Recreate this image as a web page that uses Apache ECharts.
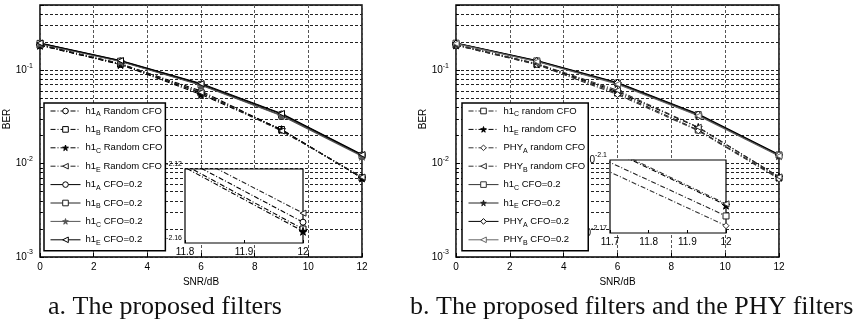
<!DOCTYPE html>
<html lang="en">
<head>
  <meta charset="utf-8">
</head>
<body style="margin: 0; background: #fff">
  <div id="container" style="width: 866px; height: 326px"></div>

  <script type="text/javascript" src="https://fastly.jsdelivr.net/npm/echarts@6/dist/echarts.min.js"></script>
  <script type="text/javascript">
// SNR points (dB)
var snr = [0, 3, 6, 9, 12];

// a. The proposed filters
var aH1ARand = [0.187, 0.117, 0.060, 0.0228, 0.00710];
var aH1BRand = [0.186, 0.116, 0.057, 0.0232, 0.00704];
var aH1CRand = [0.185, 0.115, 0.055, 0.0231, 0.00702];
var aH1ERand = [0.188, 0.118, 0.058, 0.0224, 0.00718];
var aH1A02 = [0.195, 0.126, 0.071, 0.0340, 0.0124];
var aH1B02 = [0.194, 0.125, 0.070, 0.0330, 0.0122];
var aH1C02 = [0.193, 0.124, 0.069, 0.0325, 0.0120];
var aH1E02 = [0.196, 0.127, 0.072, 0.0345, 0.0125];

// b. The proposed filters and the PHY filters
var bH1CRand = [0.186, 0.116, 0.057, 0.0229, 0.00702];
var bH1ERand = [0.187, 0.117, 0.059, 0.0244, 0.00719];
var bPhyARand = [0.185, 0.115, 0.055, 0.0225, 0.00687];
var bPhyBRand = [0.188, 0.118, 0.061, 0.0245, 0.00721];
var bH1C02 = [0.195, 0.126, 0.073, 0.0335, 0.0124];
var bH1E02 = [0.194, 0.125, 0.072, 0.0330, 0.0122];
var bPhyA02 = [0.196, 0.127, 0.074, 0.0340, 0.0125];
var bPhyB02 = [0.193, 0.124, 0.071, 0.0325, 0.0121];

// zoomed insets: x range and log10 y range
var insetA = { x: [11.8, 12], e: [-2.16, -2.12] };
var insetB = { x: [11.7, 12], e: [-2.17, -2.1] };

var FONT = 'Liberation Sans';
var STAR = 'path://M50,0L61,35L98,35L68,57L79,91L50,70L21,91L32,57L2,35L39,35Z';
var TRI_L = 'path://M0,50L100,0L100,100Z';
var DASHDOT = [5, 2, 1, 2];

function line(name, data, symbol, dashed, color, idx) {
  var filled = symbol === STAR;
  var inset = idx % 2 === 1;
  return {
    name: name,
    type: 'line',
    xAxisIndex: idx,
    yAxisIndex: idx,
    data: snr.map(function (x, i) { return [x, data[i]]; }),
    symbol: symbol,
    symbolSize: filled ? 8 : 6,
    lineStyle: { color: color, width: 1.1, type: dashed ? DASHDOT : 'solid' },
    itemStyle: { color: filled ? color : '#fff', borderColor: color, borderWidth: 1 },
    clip: true,
    z: inset ? 4 : 2
  };
}

function powLabel(digits, ends) {
  return function (v) {
    var e = Math.log(v) / Math.LN10;
    var r = +e.toFixed(digits);
    if (Math.abs(e - r) > 1e-6) return '';
    if (ends && Math.abs(r - ends[0]) > 1e-6 && Math.abs(r - ends[1]) > 1e-6) return '';
    return '{b|10}{s|' + r + '}';
  };
}

var powRich = {
  b: { fontSize: 10, lineHeight: 16, fontFamily: FONT, color: '#000' },
  s: { fontSize: 7, lineHeight: 7, verticalAlign: 'top', fontFamily: FONT, color: '#000' }
};
var subRich = {
  n: { fontSize: 9.5, lineHeight: 14, fontFamily: FONT, color: '#000' },
  sub: { fontSize: 7, lineHeight: 7, verticalAlign: 'bottom', fontFamily: FONT, color: '#000' }
};

function legendText(name) {
  var m = name.slice(2).match(/^(\w+?)_(\w)(.*)$/);
  return '{n|' + m[1] + '}{sub|' + m[2] + '}{n|' + m[3] + '}';
}

var gridLine = { type: [3, 2], color: '#222', width: 1 };
var label = { fontSize: 10, color: '#000', fontFamily: FONT };

function mainX(gi) {
  return {
    gridIndex: gi, type: 'value', min: 0, max: 12, interval: 2,
    name: 'SNR/dB', nameLocation: 'middle', nameGap: 12, nameTextStyle: label,
    axisLine: { show: false },
    axisTick: { inside: true, length: 4, lineStyle: { color: '#000' } },
    axisLabel: Object.assign({ margin: 5 }, label),
    splitLine: { lineStyle: { type: [3, 2], color: '#555', width: 1 } }
  };
}
function mainY(gi) {
  return {
    gridIndex: gi, type: 'log', logBase: 10, min: 0.001, max: 0.5,
    name: 'BER', nameLocation: 'middle', nameGap: 26,
    nameTextStyle: Object.assign({ padding: [0, 0, 0, 24] }, label),
    axisLine: { show: false },
    axisTick: { inside: true, length: 4, lineStyle: { color: '#000' } },
    minorTick: { show: true, splitNumber: 9, length: 2, lineStyle: { color: '#000' } },
    axisLabel: { margin: 7, formatter: powLabel(0), rich: powRich },
    splitLine: { lineStyle: gridLine },
    minorSplitLine: { show: true, lineStyle: gridLine }
  };
}
function insetX(gi, r) {
  return {
    gridIndex: gi, type: 'value', min: r.x[0], max: r.x[1], interval: 0.1, z: 3,
    axisLine: { show: false },
    axisTick: { inside: true, length: 3, lineStyle: { color: '#000' } },
    axisLabel: Object.assign({ margin: 4 }, label),
    splitLine: { show: false }
  };
}
function insetY(gi, r) {
  return {
    gridIndex: gi, type: 'log', logBase: 10, z: 3,
    min: Math.pow(10, r.e[0]), max: Math.pow(10, r.e[1]),
    axisLine: { show: false },
    axisTick: { show: false },
    axisLabel: { margin: 3, formatter: powLabel(2, r.e), rich: powRich },
    splitLine: { show: false }
  };
}

var mainGrid = { show: true, borderColor: '#000', borderWidth: 1.5, backgroundColor: 'transparent', outerBoundsMode: 'none', containLabel: false };
var insetGrid = { show: true, borderColor: '#000', borderWidth: 1.2, backgroundColor: '#fff', z: 3, outerBoundsMode: 'none', containLabel: false };

var seriesA = [
  ['a.h1_A Random CFO', aH1ARand, 'circle', true, '#000'],
  ['a.h1_B Random CFO', aH1BRand, 'rect', true, '#000'],
  ['a.h1_C Random CFO', aH1CRand, STAR, true, '#000'],
  ['a.h1_E Random CFO', aH1ERand, TRI_L, true, '#222'],
  ['a.h1_A CFO=0.2', aH1A02, 'circle', false, '#000'],
  ['a.h1_B CFO=0.2', aH1B02, 'rect', false, '#222'],
  ['a.h1_C CFO=0.2', aH1C02, STAR, false, '#555'],
  ['a.h1_E CFO=0.2', aH1E02, TRI_L, false, '#000']
];
var seriesB = [
  ['b.h1_C random CFO', bH1CRand, 'rect', true, '#222'],
  ['b.h1_E random CFO', bH1ERand, STAR, true, '#000'],
  ['b.PHY_A random CFO', bPhyARand, 'diamond', true, '#333'],
  ['b.PHY_B random CFO', bPhyBRand, TRI_L, true, '#333'],
  ['b.h1_C CFO=0.2', bH1C02, 'rect', false, '#333'],
  ['b.h1_E CFO=0.2', bH1E02, STAR, false, '#222'],
  ['b.PHY_A CFO=0.2', bPhyA02, 'diamond', false, '#000'],
  ['b.PHY_B CFO=0.2', bPhyB02, TRI_L, false, '#666']
];

var series = [];
seriesA.forEach(function (s) { series.push(line(s[0], s[1], s[2], s[3], s[4], 0)); });
seriesA.slice(0, 4).forEach(function (s) { series.push(line(s[0], s[1], s[2], s[3], s[4], 1)); });
seriesB.forEach(function (s) { series.push(line(s[0], s[1], s[2], s[3], s[4], 2)); });
seriesB.slice(0, 4).forEach(function (s) { series.push(line(s[0], s[1], s[2], s[3], s[4], 3)); });

function legend(list, left) {
  return {
    data: list.map(function (s) { return s[0]; }),
    orient: 'vertical', left: left, top: 103,
    itemWidth: 30, itemHeight: 7, itemGap: 6.4,
    padding: [3, 3, 4, 6],
    borderColor: '#000', borderWidth: 1.5, backgroundColor: '#fff',
    selectedMode: false, z: 5,
    lineStyle: { width: 1 },
    itemStyle: { borderWidth: 1 },
    formatter: legendText,
    textStyle: { rich: subRich, fontSize: 9.5, fontFamily: FONT, color: '#000' }
  };
}

var caption = { fontFamily: 'Liberation Serif', fontSize: 26, fontWeight: 'normal', color: '#111' };

var option = {
  animation: false,
  backgroundColor: '#fff',
  title: [
    { text: 'a. The proposed filters', left: 48, top: 294, padding: 0, textStyle: caption },
    { text: 'b. The proposed filters and the PHY filters', left: 410, top: 294, padding: 0, textStyle: caption }
  ],
  legend: [legend(seriesA, 44), legend(seriesB, 462)],
  grid: [
    Object.assign({ left: 40, top: 5, width: 322, height: 252 }, mainGrid),
    Object.assign({ left: 185, top: 169, width: 118, height: 74 }, insetGrid),
    Object.assign({ left: 456, top: 5, width: 323, height: 252 }, mainGrid),
    Object.assign({ left: 610, top: 160, width: 116, height: 73 }, insetGrid)
  ],
  xAxis: [mainX(0), insetX(1, insetA), mainX(2), insetX(3, insetB)],
  yAxis: [mainY(0), insetY(1, insetA), mainY(2), insetY(3, insetB)],
  series: series
};

var myChart = echarts.init(document.getElementById('container'), null, { renderer: 'canvas' });
myChart.setOption(option);
  </script>
</body>
</html>
